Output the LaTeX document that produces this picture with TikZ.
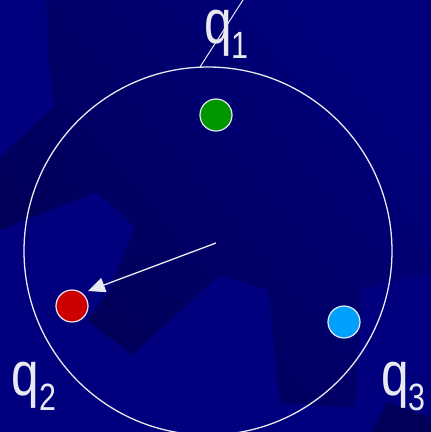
\documentclass[tikz,border=0pt]{standalone}
\usepackage{fontspec}
\setmainfont{Liberation Sans}
\usetikzlibrary{arrows.meta}
\definecolor{bgA}{RGB}{0,0,124}
\definecolor{bgB}{RGB}{0,0,84}
\definecolor{bgL}{RGB}{0,0,126}
\definecolor{bgD}{RGB}{0,0,88}
\definecolor{ink}{RGB}{232,232,240}
\definecolor{dotgreen}{RGB}{0,150,0}
\definecolor{dotred}{RGB}{204,0,0}
\definecolor{dotcyan}{RGB}{0,160,255}
\tikzset{
  dot/.style={circle, draw=ink, line width=1.2pt, minimum size=32pt, inner sep=0pt},
  lbl/.style={text=ink, anchor=base west, inner sep=0pt, outer sep=0pt},
  wline/.style={draw=ink, line width=1.3pt}
}
\newcommand{\qlabel}[1]{\scalebox{0.8}[1]{{\fontsize{62}{62}\selectfont q}{\fontsize{38}{38}\selectfont\raisebox{-15pt}{#1}}}}
\begin{document}
\begin{tikzpicture}[x=1pt,y=-1pt]
\useasboundingbox (0,0) rectangle (431,432);
% background
\shade[top color=bgA, bottom color=bgB, shading angle=-50] (0,0) rectangle (431,432);
\fill[bgL] (0,0) -- (46,0) -- (48,55) -- (55,105) -- (0,157) -- cycle;
\fill[bgL] (0,230) -- (97,192) -- (135,227) -- (108,292) -- (87,320) -- (132,355) -- (220,275) -- (268,290) -- (280,403) -- (355,407) -- (363,288) -- (431,272) -- (431,432) -- (0,432) -- cycle;
\fill[bgD] (387,402) -- (431,418) -- (431,432) -- (372,432) -- cycle;
% ring
\node[circle, draw=ink, line width=1.3pt, minimum size=368pt, inner sep=0pt] (ring) at (208,251) {};
% charges
\node[dot, fill=dotgreen] (g) at (216,115) {};
\node[dot, fill=dotred] (r) at (72,306) {};
\node[dot, fill=dotcyan] (c) at (344,322) {};
% arrow
\coordinate (o) at (216,243);
\coordinate (tip) at (88,291);
\draw[wline, -{Triangle[length=17pt,width=15pt]}] (o) -- (tip);
% line at top
\coordinate (top) at (243,0);
\coordinate (ringpt) at (200,67);
\draw[draw=ink, line width=1pt] (ringpt) -- (top);
% labels
\node[lbl] (q1) at (204,43) {\qlabel{1}};
\node[lbl] (q2) at (12,395) {\qlabel{2}};
\node[lbl] (q3) at (381,395) {\qlabel{3}};
\end{tikzpicture}
\end{document}
